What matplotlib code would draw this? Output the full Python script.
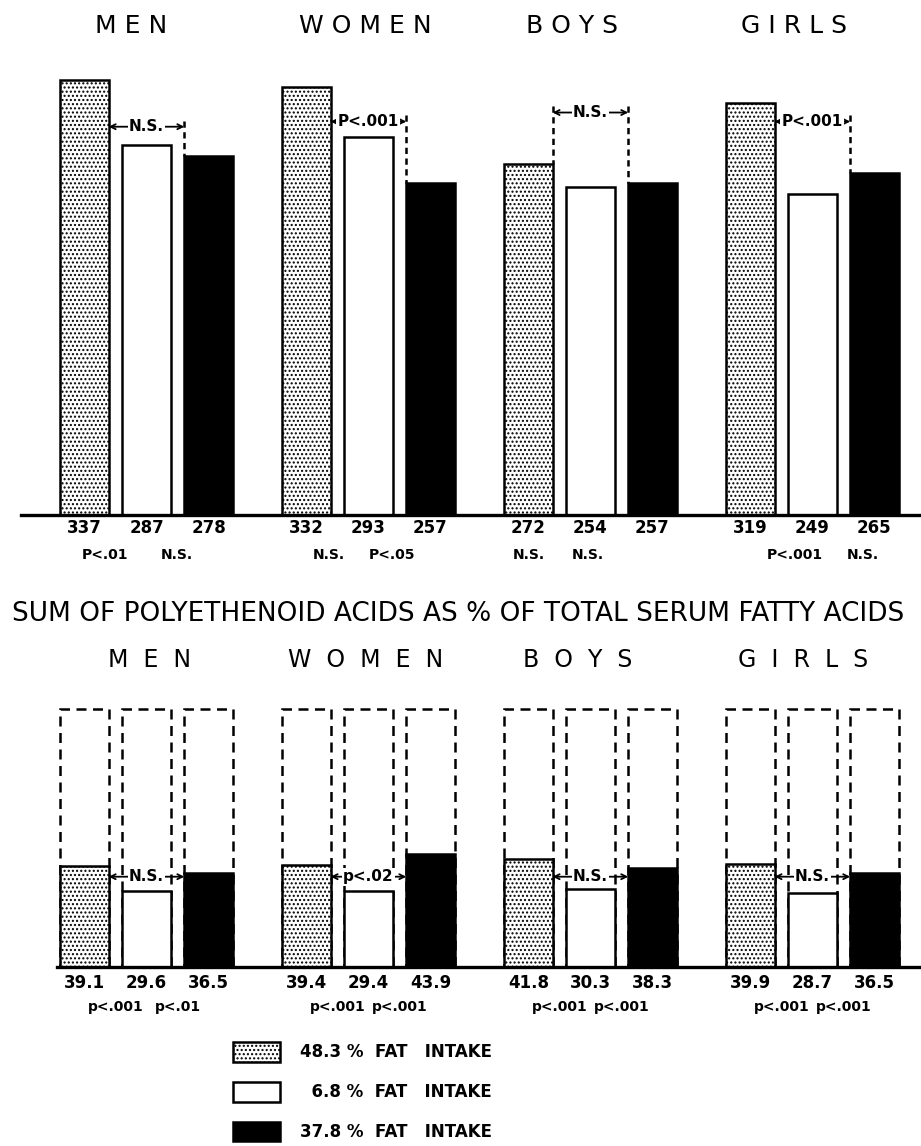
import matplotlib
matplotlib.use("Agg")
import matplotlib.pyplot as plt
import matplotlib.transforms as mtransforms
from matplotlib.patches import Patch, Rectangle
import numpy as np

# groups and diets
groups = ["MEN", "WOMEN", "BOYS", "GIRLS"]
diets = ["48.3 %  FAT   INTAKE", "  6.8 %  FAT   INTAKE", "37.8 %  FAT   INTAKE"]

# serum cholesterol, one row per group, columns = diets
chol = np.array([[337, 287, 278],
                 [332, 293, 257],
                 [272, 254, 257],
                 [319, 249, 265]])
chol_p = [["P<.01", "N.S."], ["N.S.", "P<.05"], ["N.S.", "N.S."], ["P<.001", "N.S."]]
chol_cmp = ["N.S.", "P<.001", "N.S.", "P<.001"]

# polyethenoid acids as % of total serum fatty acids
poly = np.array([[39.1, 29.6, 36.5],
                 [39.4, 29.4, 43.9],
                 [41.8, 30.3, 38.3],
                 [39.9, 28.7, 36.5]])
poly_p = [["p<.001", "p<.01"], ["p<.001", "p<.001"], ["p<.001", "p<.001"], ["p<.001", "p<.001"]]
poly_cmp = ["N.S.", "p<.02", "N.S.", "N.S."]

# layout
W, H = 921, 1146
GSTEP = 3.58
BW = 0.78
XL = (-84.5 / 62, (W - 84.5) / 62)
gx = np.arange(4) * GSTEP

chol_p_off = [[0.33, 1.49], [0.36, 1.38], [0.01, 0.96], [0.72, 1.81]]
chol_arrow_y = [301, 305, 312, 305]
poly_p_off = [0.5, 1.5]
poly_arrow_y = 35
top_head_off = [0.75, 0.95, 0.7, 0.7]
bot_head_off = [1.05, 0.95, 0.8, 0.85]

styles = [dict(facecolor="white", edgecolor="black", hatch="...."),
          dict(facecolor="white", edgecolor="black"),
          dict(facecolor="black", edgecolor="black")]

plt.rcParams["font.family"] = ["DejaVu Sans"]
plt.rcParams["hatch.linewidth"] = 1.0

fig = plt.figure(figsize=(W / 100, H / 100), dpi=100)


def compare_arrow(ax, x1, x2, y, label, v1, v2, fs):
    ax.annotate("", xy=(x1, y), xytext=(x2, y),
                arrowprops=dict(arrowstyle="<->", lw=1.3, color="black",
                                shrinkA=0, shrinkB=0, mutation_scale=9))
    ax.text((x1 + x2) / 2, y, label, ha="center", va="center", fontsize=fs,
            fontweight="bold", bbox=dict(facecolor="white", edgecolor="none", pad=1))
    for x, v in ((x1, v1), (x2, v2)):
        if v < y:
            ax.plot([x, x], [y + (ax.get_ylim()[1] * 0.012), v], color="black", lw=1.8,
                    linestyle=(0, (2.5, 1.8)))


# ---- top panel: cholesterol ----
top_base = 515
ax1 = fig.add_axes([0, 1 - top_base / H, 1, top_base / H])
ax1.set_xlim(*XL)
ax1.set_ylim(0, top_base / 1.29)
ax1.axis("off")
for i in range(3):
    ax1.bar(gx + i, chol[:, i], width=BW, linewidth=1.8, zorder=2, **styles[i])
ax1.plot([XL[0] + 21 / 62, XL[1]], [0, 0], color="black", lw=2.4, clip_on=False, zorder=3)

for g in range(4):
    for i in range(3):
        ax1.annotate(str(chol[g, i]), xy=(gx[g] + i, 0), xytext=(0, -13),
                     textcoords="offset pixels", ha="center", va="center",
                     fontsize=12, fontweight="bold", annotation_clip=False)
    for k in range(2):
        ax1.annotate(chol_p[g][k], xy=(gx[g] + chol_p_off[g][k], 0), xytext=(0, -40),
                     textcoords="offset pixels", ha="center", va="center",
                     fontsize=10, fontweight="bold", annotation_clip=False)
    compare_arrow(ax1, gx[g] + BW / 2, gx[g] + 2 - BW / 2, chol_arrow_y[g],
                  chol_cmp[g], chol[g, 0], chol[g, 2], 11)

tr1 = mtransforms.blended_transform_factory(ax1.transData, ax1.transAxes)
for g, name in enumerate(groups):
    ax1.text(gx[g] + top_head_off[g], (top_base - 26) / top_base, " ".join(name),
             transform=tr1, ha="center", va="center", fontsize=18)

fig.text(0.497, 1 - 614 / H, "SUM OF POLYETHENOID ACIDS AS % OF TOTAL SERUM FATTY ACIDS",
         ha="center", va="center", fontsize=19)

# ---- bottom panel: polyethenoid acids ----
bot_base = 967
bot_h = 320
ax2 = fig.add_axes([0, 1 - bot_base / H, 1, bot_h / H])
ax2.set_xlim(*XL)
ax2.set_ylim(0, bot_h / 2.58)
ax2.axis("off")
for g in range(4):
    for i in range(3):
        ax2.add_patch(Rectangle((gx[g] + i - BW / 2, 0), BW, 100, fill=False,
                                edgecolor="black", lw=1.8, linestyle=(0, (4, 2.6)),
                                zorder=1))
for i in range(3):
    ax2.bar(gx + i, poly[:, i], width=BW, linewidth=1.8, zorder=2, **styles[i])
ax2.plot([XL[0] + 57 / 62, XL[1]], [0, 0], color="black", lw=2.4, clip_on=False, zorder=3)

for g in range(4):
    for i in range(3):
        ax2.annotate(f"{poly[g, i]:.1f}", xy=(gx[g] + i, 0), xytext=(0, -16),
                     textcoords="offset pixels", ha="center", va="center",
                     fontsize=12, fontweight="bold", annotation_clip=False)
    for k in range(2):
        ax2.annotate(poly_p[g][k], xy=(gx[g] + poly_p_off[k], 0), xytext=(0, -40),
                     textcoords="offset pixels", ha="center", va="center",
                     fontsize=10, fontweight="bold", annotation_clip=False)
    compare_arrow(ax2, gx[g] + BW / 2, gx[g] + 2 - BW / 2, poly_arrow_y,
                  poly_cmp[g], 200, 200, 11)

tr2 = mtransforms.blended_transform_factory(ax2.transData, ax2.transAxes)
for g, name in enumerate(groups):
    ax2.text(gx[g] + bot_head_off[g], (bot_base - 660) / bot_h, "  ".join(name),
             transform=tr2, ha="center", va="center", fontsize=17, clip_on=False)

# ---- legend ----
handles = [Patch(linewidth=1.8, **s) for s in styles]
fig.legend(handles, diets, loc="upper left", bbox_to_anchor=(233 / W, 1 - 1042 / H),
           frameon=False, borderpad=0, borderaxespad=0, handlelength=2.8,
           handleheight=1.45, handletextpad=1.2, labelspacing=1.2,
           prop=dict(size=12, weight="bold"))

fig.savefig("out.png", dpi=100)
